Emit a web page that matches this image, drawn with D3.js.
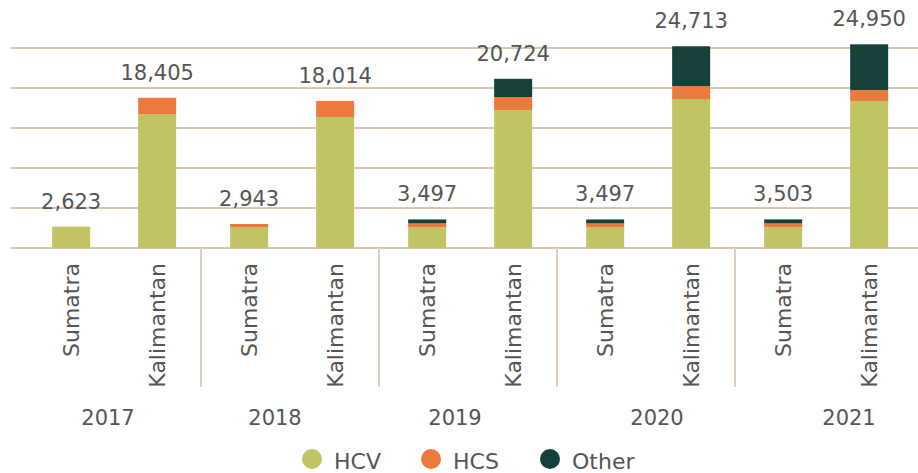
<!DOCTYPE html>
<html>
<head>
<meta charset="utf-8">
<script src="https://cdn.jsdelivr.net/npm/d3@7"></script>
<style>
  html, body { margin: 0; padding: 0; background: #fff; }
  svg { display: block; font-family: "DejaVu Sans", sans-serif; }
</style>
</head>
<body>
<svg id="chart" width="918" height="473"></svg>
<script>
// Conservation area by island and year (ha)
const years = ["2017", "2018", "2019", "2020", "2021"];
const islands = ["Sumatra", "Kalimantan"];
// one entry per year × island, in order: Sumatra, Kalimantan, Sumatra, ...
const hcv   = [2623, 16400, 2530, 16050, 2530, 16900, 2530, 18250, 2530, 18000];
const hcs   = [0,     2005,  413,  1964,  480,  1590,  480,  1590,  480,  1350];
const other = [0,        0,    0,     0,  487,  2234,  487,  4873,  493,  5600];
const totals = [2623, 18405, 2943, 18014, 3497, 20724, 3497, 24713, 3503, 24950];
const seriesNames = ["HCV", "HCS", "Other"];
const gridStep = 4900;

const colors = { HCV: "#c0c462", HCS: "#ec7a3c", Other: "#15413a" };
const textColor = "#555555";
const gridColor = "#c9b69c";
const sepColor = "#ddd0c2";

const svg = d3.select("#chart");

const rows = [];
years.forEach((yr, i) => islands.forEach((isl, j) => {
  const k = i * islands.length + j;
  rows.push({ year: yr, island: isl, HCV: hcv[k], HCS: hcs[k], Other: other[k], total: totals[k] });
}));

const x0 = d3.scaleBand().domain(years).range([23, 913]);
const x1 = d3.scaleBand().domain(islands).range([0, x0.step()])
  .paddingInner(0.558).paddingOuter(0.314).align(0.54);
const y = d3.scaleLinear().domain([0, 24500]).range([248, 48]);

const cx = d => x0(d.year) + x1(d.island) + x1.bandwidth() / 2;

// title (mostly above the visible area)
svg.append("text")
  .attr("x", 471).attr("y", -3)
  .attr("text-anchor", "middle")
  .attr("fill", textColor)
  .style("font-size", "22px")
  .text("(ha)");

// horizontal gridlines
svg.append("g").selectAll("line")
  .data(d3.range(0, y.domain()[1] + 1, gridStep))
  .join("line")
  .attr("x1", 11).attr("x2", 918)
  .attr("y1", d => y(d)).attr("y2", d => y(d))
  .attr("stroke", gridColor).attr("stroke-width", 1.3);

// year separators
svg.append("g").selectAll("line")
  .data(years.slice(1))
  .join("line")
  .attr("x1", d => x0(d)).attr("x2", d => x0(d))
  .attr("y1", y(0)).attr("y2", 387)
  .attr("stroke", sepColor).attr("stroke-width", 2);

// stacked bars
const stack = d3.stack().keys(seriesNames)(rows);
svg.append("g").selectAll("g")
  .data(stack)
  .join("g")
  .attr("fill", s => colors[s.key])
  .selectAll("rect")
  .data(s => s.filter(d => d[1] > d[0]))
  .join("rect")
  .attr("x", d => x0(d.data.year) + x1(d.data.island))
  .attr("width", x1.bandwidth())
  .attr("y", d => y(d[1]))
  .attr("height", d => y(d[0]) - y(d[1]));

// total labels
const fmt = d3.format(",");
svg.append("g").selectAll("text")
  .data(rows)
  .join("text")
  .attr("x", cx)
  .attr("y", d => y(d.total) - 18)
  .attr("text-anchor", "middle")
  .attr("fill", textColor)
  .style("font-size", "21px")
  .text(d => fmt(d.total));

// island labels (rotated)
svg.append("g").selectAll("text")
  .data(rows)
  .join("text")
  .attr("transform", d => `translate(${cx(d)},263) rotate(-90)`)
  .attr("dy", "0.36em")
  .attr("text-anchor", "end")
  .attr("fill", textColor)
  .style("font-size", "22px")
  .text(d => d.island);

// year labels
const yearNudge = [-4, -15, -13, 11, 25];
svg.append("g").selectAll("text")
  .data(years)
  .join("text")
  .attr("x", (d, i) => x0(d) + x0.bandwidth() / 2 + yearNudge[i])
  .attr("y", 425)
  .attr("text-anchor", "middle")
  .attr("fill", textColor)
  .style("font-size", "21px")
  .text(d => d);

// legend
const legend = svg.append("g").selectAll("g")
  .data(seriesNames)
  .join("g")
  .attr("transform", (d, i) => `translate(${312 + i * 119},459)`);
legend.append("circle").attr("r", 10).attr("fill", d => colors[d]);
legend.append("text")
  .attr("x", 22).attr("y", 10)
  .attr("fill", textColor)
  .style("font-size", "22px")
  .text(d => d);
</script>
</body>
</html>
